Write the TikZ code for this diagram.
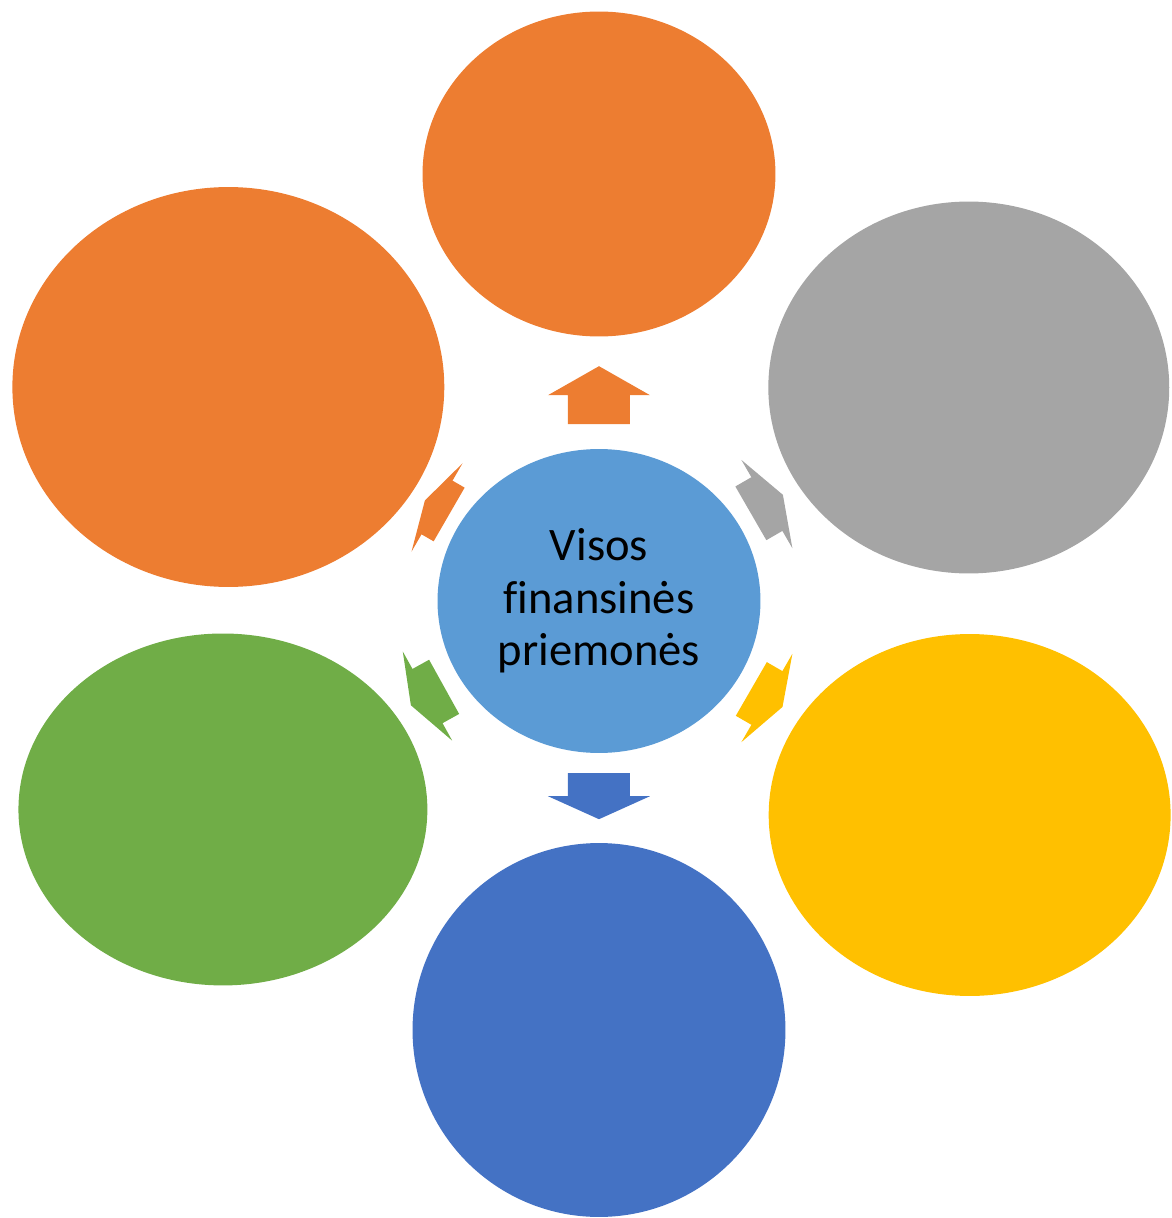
\documentclass[tikz,border=0pt]{standalone}
\usepackage{fontspec}
\setmainfont{Carlito}[Ligatures=NoCommon]
\usetikzlibrary{positioning,calc,shapes.geometric}

\definecolor{accorange}{HTML}{ED7D31}
\definecolor{accgray}{HTML}{A5A5A5}
\definecolor{accyellow}{HTML}{FFC000}
\definecolor{accblue}{HTML}{4472C4}
\definecolor{accgreen}{HTML}{70AD47}
\definecolor{acclight}{HTML}{5B9BD5}

\begin{document}
\begin{tikzpicture}[x=0.02cm,y=0.02cm,
    bubble/.style={ellipse,inner sep=0pt},
    pics/radarrow/.style 2 args={code={
        \fill[#2] (-#1/2,-31) -- (0,-31) -- (0,-51) -- (#1/2,0)
          -- (0,51) -- (0,31) -- (-#1/2,31) -- cycle;}}]
  \useasboundingbox (-599,-617) rectangle (572,601);

  % hub
  \node[bubble,fill=acclight,minimum width=6.46cm,minimum height=6.08cm,
    align=center,font=\fontsize{26.5}{30}\selectfont] (hub) at (0,0)
    {Visos\\finansinės\\priemonės};

  % outer bubbles
  \node[bubble,fill=accorange,minimum width=7.06cm,minimum height=6.5cm] (top) at (90:427) {};
  \node[bubble,fill=accorange,minimum width=8.64cm,minimum height=8cm] (topleft) at (150:428) {};
  \node[bubble,fill=accgray,minimum width=8.02cm,minimum height=7.44cm] (topright) at (30:427) {};
  \node[bubble,fill=accyellow,minimum width=8.04cm,minimum height=7.24cm] (botright) at (-30:428) {};
  \node[bubble,fill=accblue,minimum width=7.46cm,minimum height=7.48cm] (bot) at (-90:429) {};
  \node[bubble,fill=accgreen,minimum width=8.18cm,minimum height=7.04cm] (botleft) at (209:430) {};

  % arrows
  \pic[rotate=90] at ($(hub)!0.482!(top)$) {radarrow={58}{accorange}};
  \pic[rotate=150] at ($(hub)!0.437!(topleft)$) {radarrow={28}{accorange}};
  \pic[rotate=30] at ($(hub)!0.454!(topright)$) {radarrow={37}{accgray}};
  \pic[rotate=-30] at ($(hub)!0.453!(botright)$) {radarrow={36}{accyellow}};
  \pic[rotate=-90] at ($(hub)!0.455!(bot)$) {radarrow={46}{accblue}};
  \pic[rotate=209] at ($(hub)!0.456!(botleft)$) {radarrow={38}{accgreen}};
\end{tikzpicture}
\end{document}
